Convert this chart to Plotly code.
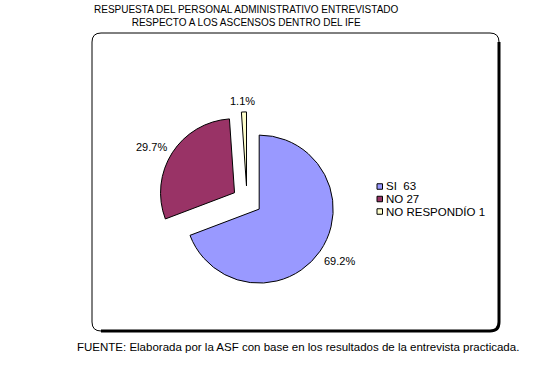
import plotly.graph_objects as go

W, H = 551, 366

categories = ["SI", "NO", "NO RESPONDÍO"]
values = [63, 27, 1]
legend_labels = ["SI  63", "NO 27", "NO RESPONDÍO 1"]
colors = ["#9999FF", "#993366", "#FFFFCC"]

title_lines = ["RESPUESTA DEL PERSONAL ADMINISTRATIVO ENTREVISTADO",
               "RESPECTO A LOS ASCENSOS DENTRO DEL IFE"]
footer = "FUENTE: Elaborada por la ASF con base en los resultados de la entrevista practicada."

FONT = "Liberation Sans, Arial, sans-serif"


def px(x):
    return x / W


def py(y):
    return 1 - y / H


# pie geometry (pixels)
cx, cy, r, pull = 247, 200.7, 74, 0.2
half = r * (1 + pull)

fig = go.Figure()
fig.add_trace(go.Pie(
    labels=categories,
    values=values,
    sort=False,
    direction="clockwise",
    rotation=0,
    pull=[pull] * len(values),
    marker=dict(colors=colors, line=dict(color="black", width=1)),
    textinfo="none",
    showlegend=False,
    hoverinfo="label+value+percent",
    domain=dict(x=[px(cx - half), px(cx + half)], y=[py(cy + half), py(cy - half)]),
))

shapes = []
# rounded frame
L, T, R, B, rc = 92, 33, 499, 331, 9
thin = (f"M {px(L)},{py(T + rc)} Q {px(L)},{py(T)} {px(L + rc)},{py(T)} "
        f"L {px(R - rc)},{py(T)} Q {px(R)},{py(T)} {px(R)},{py(T + rc)} "
        f"L {px(R)},{py(B - rc)} Q {px(R)},{py(B)} {px(R - rc)},{py(B)} "
        f"L {px(L + rc)},{py(B)} Q {px(L)},{py(B)} {px(L)},{py(B - rc)} Z")
shapes.append(dict(type="path", xref="paper", yref="paper", path=thin,
                   line=dict(color="black", width=1)))
thick = (f"M {px(R)},{py(T + rc)} L {px(R)},{py(B - rc)} "
         f"Q {px(R)},{py(B)} {px(R - rc)},{py(B)} L {px(L + rc)},{py(B)}")
shapes.append(dict(type="path", xref="paper", yref="paper", path=thick,
                   line=dict(color="black", width=3)))

annotations = []
# title
annotations.append(dict(text="<br>".join(title_lines), xref="paper", yref="paper",
                        x=px(246.5), y=py(2), xanchor="center", yanchor="top",
                        showarrow=False, align="center",
                        font=dict(family=FONT, size=10, color="black")))
# footer
annotations.append(dict(text=footer, xref="paper", yref="paper",
                        x=px(75), y=py(347), xanchor="left", yanchor="middle",
                        showarrow=False, font=dict(family=FONT, size=11.5, color="black")))

# percentage labels of the slices
total = sum(values)
label_pos = [(339, 260.5), (151, 147.5), (242, 101)]
for v, (lxp, lyp) in zip(values, label_pos):
    annotations.append(dict(text=f"{100 * v / total:.1f}%", xref="paper", yref="paper",
                            x=px(lxp), y=py(lyp), xanchor="center", yanchor="middle",
                            showarrow=False, font=dict(family=FONT, size=11, color="black")))

# legend (manual)
lx, ly0, dy, sq = 377, 186.5, 12.5, 5.5
for i, (lab, col) in enumerate(zip(legend_labels, colors)):
    yc = ly0 + i * dy
    shapes.append(dict(type="rect", xref="paper", yref="paper",
                       x0=px(lx), x1=px(lx + sq), y0=py(yc + sq / 2), y1=py(yc - sq / 2),
                       fillcolor=col, line=dict(color="black", width=1)))
    annotations.append(dict(text=lab, xref="paper", yref="paper",
                            x=px(lx + sq + 1), y=py(yc), xanchor="left", yanchor="middle",
                            showarrow=False, font=dict(family=FONT, size=11.5, color="black")))

fig.update_layout(
    width=W, height=H,
    margin=dict(l=0, r=0, t=0, b=0),
    paper_bgcolor="white", plot_bgcolor="white",
    shapes=shapes, annotations=annotations,
    showlegend=False,
)

fig.write_html("out.html")
